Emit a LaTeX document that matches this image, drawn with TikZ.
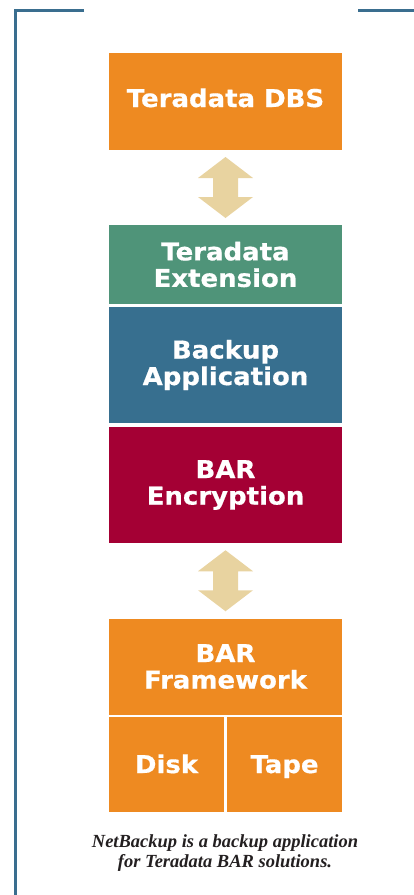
\documentclass[tikz,border=0pt]{standalone}
\usepackage{fontspec}
\newfontfamily\boxfont{DejaVu Sans}[BoldFont={DejaVu Sans Bold},BoldFeatures={FakeStretch=1.06,FakeBold=0.6}]
\newfontfamily\capfont{Liberation Serif}
\usetikzlibrary{positioning,calc}
\definecolor{tdorange}{HTML}{EE8A21}
\definecolor{tdgreen}{HTML}{4F9479}
\definecolor{tdblue}{HTML}{376F8F}
\definecolor{tdred}{HTML}{A40034}
\definecolor{tdarrow}{HTML}{E8D3A0}
\definecolor{tdframe}{HTML}{3A6E8F}
\definecolor{captext}{HTML}{231F20}
\begin{document}
\begin{tikzpicture}[x=1pt,y=-1pt,
  blk/.style={draw=none,text=white,inner sep=0pt,align=center,
    font=\boxfont\bfseries\fontsize{24.5}{26.5}\selectfont},
  dblarrow/.style={fill=tdarrow,draw=none},
  frame/.style={draw=tdframe,line width=2.6pt}]
\useasboundingbox (0,0) rectangle (414,895);
% frame
\draw[frame] (84,10.5) -- (15.5,10.5) -- (15.5,895);
\draw[frame] (358,10.5) -- (414,10.5);
% blocks
\node[blk,text height=16pt,text depth=5pt,fill=tdorange,minimum width=233pt,minimum height=97pt] (dbs) at (225.5,101.5) {Teradata DBS};
\node[blk,fill=tdgreen,minimum width=233pt,minimum height=79pt] (ext) at (225.5,264.5) {Teradata\\Extension};
\node[blk,fill=tdblue,minimum width=233pt,minimum height=116pt] (app) at (225.5,365) {Backup\\Application};
\node[blk,fill=tdred,minimum width=233pt,minimum height=116pt] (enc) at (225.5,485) {BAR\\Encryption};
\node[blk,fill=tdorange,minimum width=233pt,minimum height=96pt] (fw) at (225.5,666.5) {BAR\\Framework};
\node[blk,text height=17pt,text depth=0pt,fill=tdorange,minimum width=115pt,minimum height=95pt] (disk) at (166.5,764.5) {Disk};
\node[blk,text height=17pt,text depth=0pt,fill=tdorange,minimum width=115pt,minimum height=95pt] (tape) at (284.5,764.5) {Tape};
% double arrows
\coordinate (a1) at ($(dbs.south)!0.5!(ext.north)$);
\coordinate (a2) at ($(enc.south)!0.5!(fw.north)$);
\foreach \c in {a1,a2}{
  \fill[dblarrow] ([yshift=-30.5pt]\c) -- ([xshift=27.5pt,yshift=-9.5pt]\c) -- ([xshift=12.5pt,yshift=-9.5pt]\c)
    -- ([xshift=12.5pt,yshift=9.5pt]\c) -- ([xshift=27.5pt,yshift=9.5pt]\c) -- ([yshift=30.5pt]\c)
    -- ([xshift=-27.5pt,yshift=9.5pt]\c) -- ([xshift=-12.5pt,yshift=9.5pt]\c)
    -- ([xshift=-12.5pt,yshift=-9.5pt]\c) -- ([xshift=-27.5pt,yshift=-9.5pt]\c) -- cycle;
}
% caption
\node[align=center,text=captext,font=\capfont\bfseries\itshape\fontsize{18.5}{20}\selectfont] (cap) at (225,853) {NetBackup is a backup application\\for Teradata BAR solutions.};
\end{tikzpicture}
\end{document}
